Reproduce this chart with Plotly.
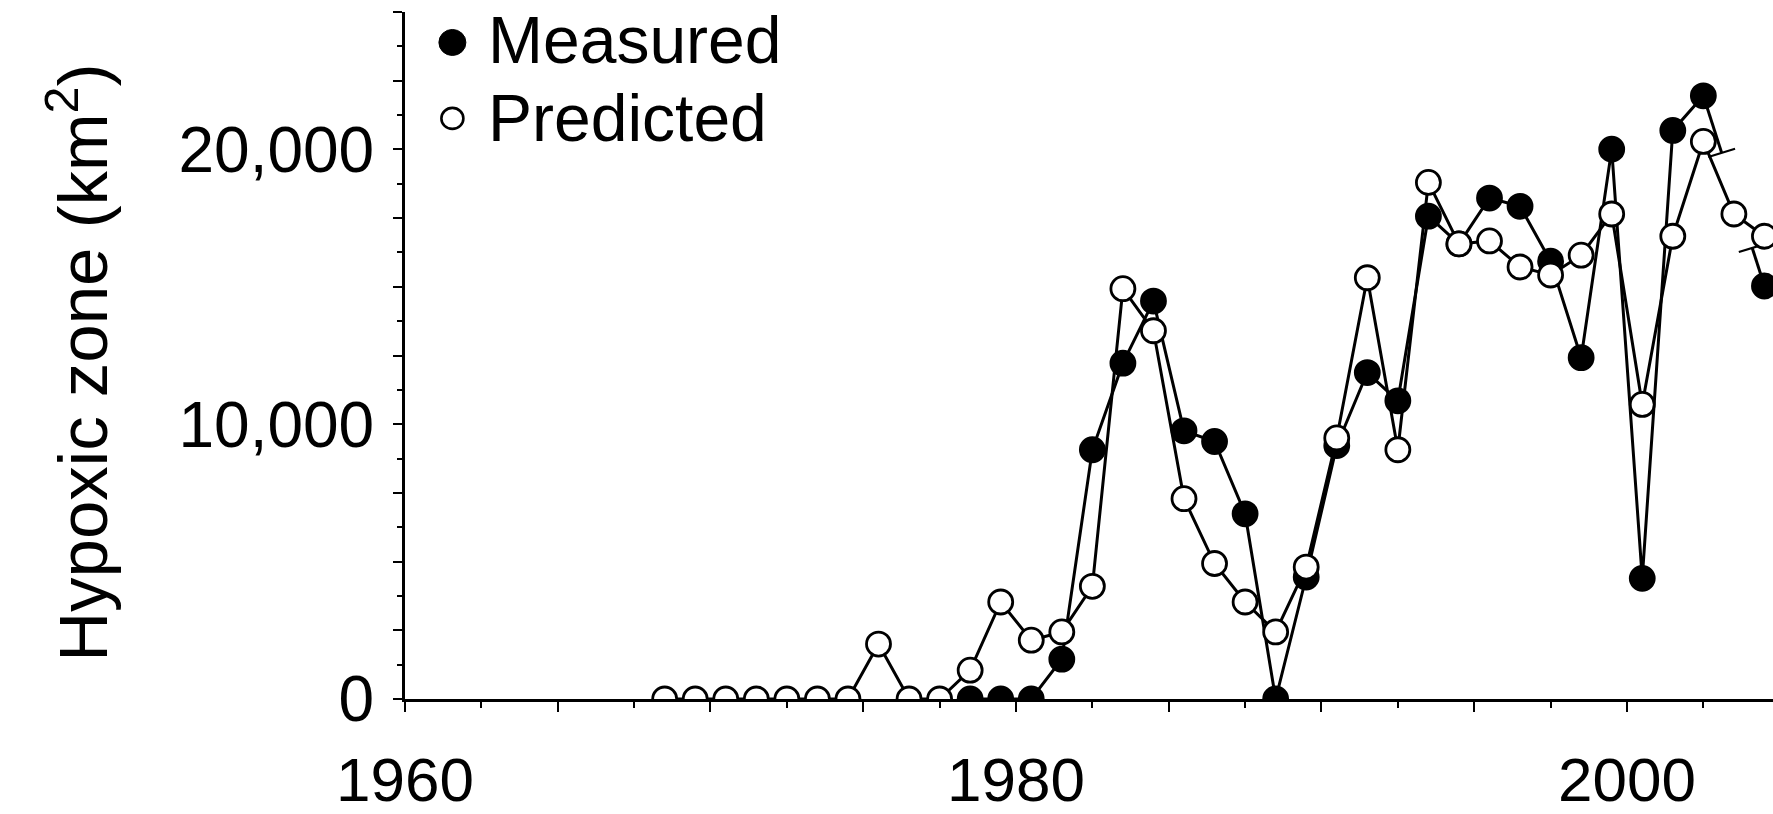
import plotly.graph_objects as go

# ---------------- data ----------------
years = list(range(1968, 2005))
predicted = [0, 0, 0, 0, 0, 0, 0, 2000, 0, 0,            # 1968-1977
             1050, 3530, 2140, 2440, 4100, 14930, 13400,  # 1978-1984
             7290, 4930, 3530, 2440, 4800, 9500, 15330,   # 1985-1991
             9070, 18800, 16560, 16670, 15720, 15430,     # 1992-1997
             16150, 17650, 10720, 16840, 20290, 17650, 16840]  # 1998-2004
measured = [None] * 10 + [
             0, 0, 0, 1450, 9070, 12220, 14480,           # 1978-1984
             9760, 9370, 6740, 0, 4440, 9220, 11880,      # 1985-1991
             10850, 17570, 16560, 18230, 17930, 15930,    # 1992-1997
             12420, 20010, 4390, 20690, 21950, None, 15030]  # 1998-2004

x_ticklabels = {1960: "1960", 1980: "1980", 2000: "2000"}
y_ticklabels = {0: "0", 10000: "10,000", 20000: "20,000"}

FONT = "Liberation Sans, Arial, sans-serif"
FS = 64
FSX = 62
LW = 3.0
MS = 24

# points sit at mid-year
xs = [y + 0.5 for y in years]

fig = go.Figure()

# measured series (line broken around the missing 2003 value)
fig.add_trace(go.Scatter(
    x=xs, y=measured, mode="lines+markers", connectgaps=False,
    line=dict(color="black", width=LW),
    marker=dict(symbol="circle", size=MS, color="black",
                line=dict(color="black", width=2.8)),
    showlegend=False, cliponaxis=True))

# break stubs between 2002 and 2004 for measured
i02 = years.index(2002)
i04 = years.index(2004)
x02, y02 = xs[i02], measured[i02]
x04, y04 = xs[i04], measured[i04]
fa, fb = 0.30, 0.80
xa, ya = x02 + fa * (x04 - x02), y02 + fa * (y04 - y02)
xb, yb = x02 + fb * (x04 - x02), y02 + fb * (y04 - y02)
fig.add_trace(go.Scatter(
    x=[x02, xa, None, xb, x04], y=[y02, ya, None, yb, y04], mode="lines",
    line=dict(color="black", width=LW), showlegend=False))
fig.add_trace(go.Scatter(
    x=[xa, xb], y=[ya, yb], mode="markers",
    marker=dict(symbol="line-ew-open", size=20, angle=-17, color="black",
                line=dict(color="black", width=2.2)),
    showlegend=False))

# predicted series (on top)
fig.add_trace(go.Scatter(
    x=xs, y=predicted, mode="lines+markers",
    line=dict(color="black", width=LW),
    marker=dict(symbol="circle", size=MS, color="white",
                line=dict(color="black", width=2.8)),
    showlegend=False, cliponaxis=True))

# ---------------- axes ----------------
L, R, T, B = 404.6, 0, 11.5, 115
W, H = 1773, 814
pw, ph = W - L - R, H - T - B

fig.update_xaxes(
    range=[1960, 2004.78], showgrid=False, zeroline=False,
    showline=True, linecolor="black", linewidth=3,
    tickmode="array",
    tickvals=[v for v in range(1960, 2005, 5)],
    ticktext=[x_ticklabels.get(v, "") for v in range(1960, 2005, 5)],
    ticks="outside", ticklen=10, tickwidth=2.4, tickcolor="black",
    ticklabelstandoff=15,
    tickfont=dict(family=FONT, size=FSX, color="black"),
    minor=dict(tickmode="array",
               tickvals=[1962.5 + 5 * k for k in range(9)],
               ticks="outside", ticklen=6, tickwidth=2.4, tickcolor="black"),
)
fig.update_yaxes(
    range=[0, 25000], showgrid=False, zeroline=False,
    showline=True, linecolor="black", linewidth=3,
    tickmode="array",
    tickvals=[v for v in range(0, 25001, 2500)],
    ticktext=[y_ticklabels.get(v, "") for v in range(0, 25001, 2500)],
    ticks="outside", ticklen=9, tickwidth=2.4, tickcolor="black",
    ticklabelstandoff=6,
    tickfont=dict(family=FONT, size=FS, color="black"),
    minor=dict(tickmode="array",
               tickvals=[1250 + 2500 * k for k in range(10)],
               ticks="outside", ticklen=5, tickwidth=2.4, tickcolor="black"),
)

def px_x(p):
    return (p - L) / pw

def px_y(p):
    return (H - B - p) / ph

annotations = [
    dict(text="Hypoxic zone (km<sup>2</sup>)", textangle=-90,
         xref="paper", yref="paper", x=px_x(78), y=px_y(362),
         xanchor="center", yanchor="middle", showarrow=False,
         font=dict(family=FONT, size=69, color="black")),
    dict(text="Measured", xref="paper", yref="paper",
         x=px_x(486), y=px_y(40), xanchor="left", yanchor="middle",
         showarrow=False, font=dict(family=FONT, size=66, color="black")),
    dict(text="Predicted", xref="paper", yref="paper",
         x=px_x(486), y=px_y(118), xanchor="left", yanchor="middle",
         showarrow=False, font=dict(family=FONT, size=66, color="black")),
]

shapes = [
    dict(type="circle", xref="paper", yref="paper",
         xsizemode="pixel", ysizemode="pixel",
         xanchor=px_x(452), yanchor=px_y(42),
         x0=-13.5, x1=13.5, y0=-13, y1=13,
         fillcolor="black", line=dict(color="black", width=1)),
    dict(type="circle", xref="paper", yref="paper",
         xsizemode="pixel", ysizemode="pixel",
         xanchor=px_x(452), yanchor=px_y(118),
         x0=-11, x1=11, y0=-10.5, y1=10.5,
         fillcolor="white", line=dict(color="black", width=2.6)),
]

fig.update_layout(
    width=W, height=H,
    margin=dict(l=L, r=R, t=T, b=B, autoexpand=False),
    paper_bgcolor="white", plot_bgcolor="white",
    showlegend=False,
    annotations=annotations, shapes=shapes,
    font=dict(family=FONT, color="black"),
)

fig.write_html("out.html",
               config={"displayModeBar": False},
               post_script="document.body.style.margin='0';"
                           "document.body.style.padding='0';"
                           "document.body.style.overflow='hidden';")
